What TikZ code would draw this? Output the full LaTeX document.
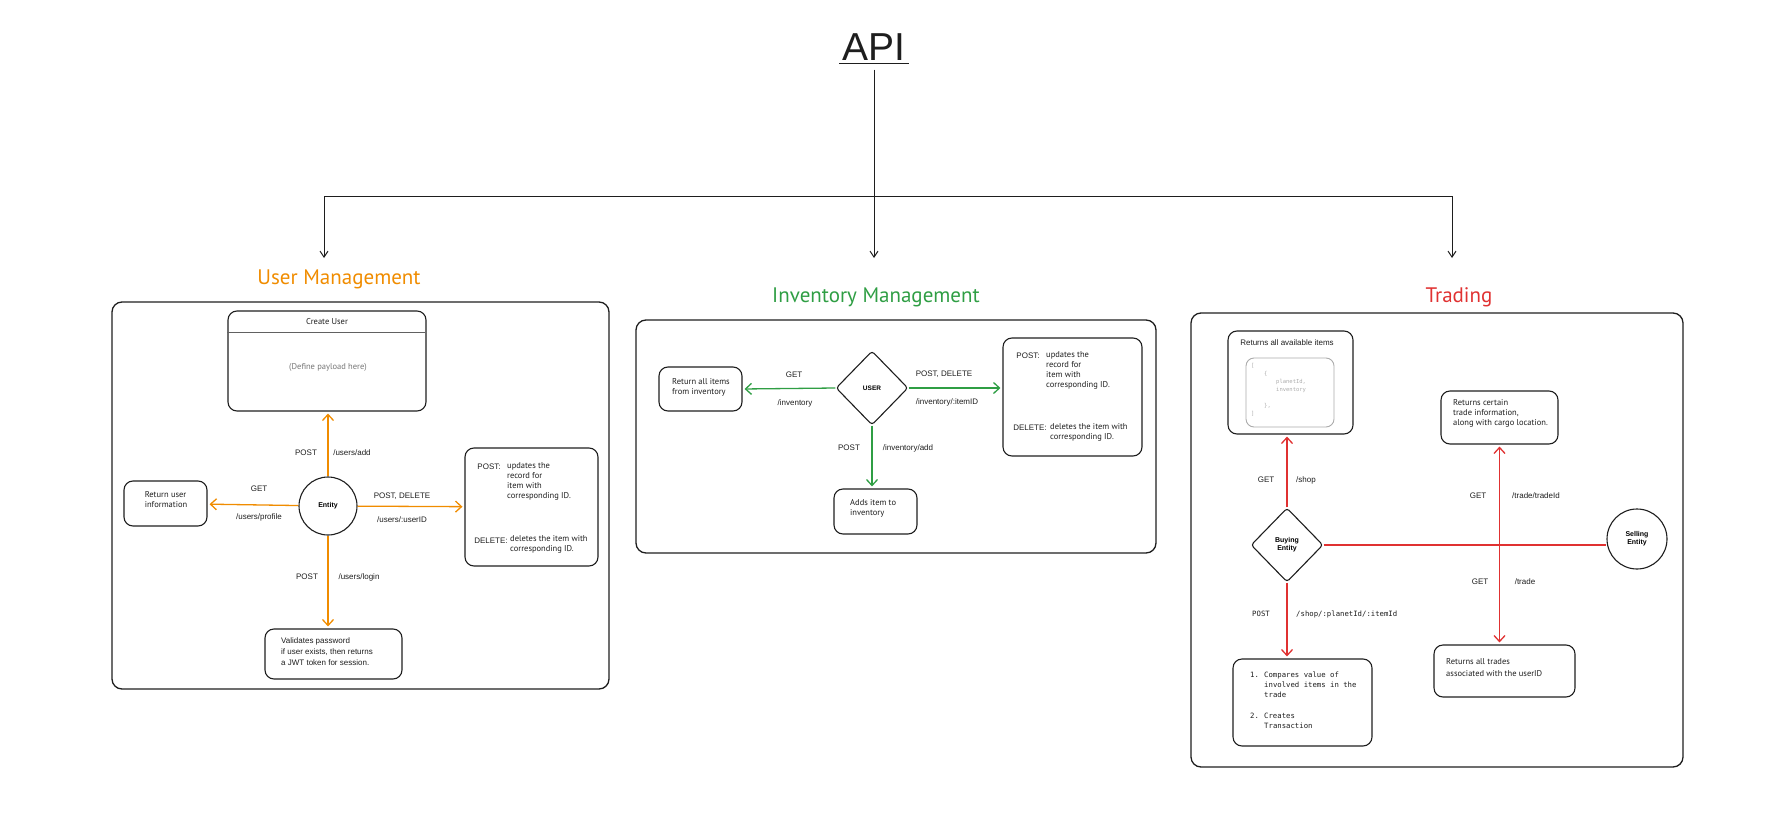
\documentclass[tikz,border=0pt]{standalone}
\usepackage{fontspec}
\setmainfont{Liberation Sans}
\setmonofont{DejaVu Sans Mono}
\newfontfamily\handfont{PT Sans}
\usetikzlibrary{arrows.meta,shapes.geometric}

\definecolor{ink}{HTML}{1E1E1E}
\definecolor{umorange}{HTML}{F08C00}
\definecolor{invgreen}{HTML}{2F9E44}
\definecolor{trred}{HTML}{E03131}
\definecolor{softgray}{HTML}{757575}
\definecolor{codegray}{HTML}{ABABAB}

\tikzset{
  frame/.style={draw=ink, line width=1.3pt, rounded corners=10pt},
  card/.style={draw=ink, line width=1.1pt, rounded corners=9pt, inner sep=0pt},
  entity/.style={draw=ink, line width=1.1pt, circle, inner sep=0pt, align=center,
    font=\bfseries\fontsize{7}{8}\selectfont},
  gate/.style={draw=ink, line width=1.1pt, diamond, rounded corners=3pt, inner sep=0pt,
    align=center, font=\bfseries\fontsize{7}{8}\selectfont},
  lbl/.style={inner sep=0pt, text=ink, font=\fontsize{8}{9}\selectfont},
  hand/.style={inner sep=0pt, align=left, text=ink, font=\handfont\fontsize{8.5}{10}\selectfont},
  mono/.style={inner sep=0pt, align=left, text=ink, font=\ttfamily\fontsize{7.3}{10}\selectfont},
  title/.style={inner sep=0pt, font=\handfont\fontsize{21}{24}\selectfont},
  route/.style={line width=1.3pt, shorten >=2pt, -{Straight Barb[length=6pt,width=11pt]}},
  tree/.style={draw=ink, line width=1pt},
}

\begin{document}
\begin{tikzpicture}[x=1pt, y=-1pt, line join=round]
    \useasboundingbox (0,0) rectangle (1765,816);

    % API 根节点
    \node[inner sep=3pt, text=ink, font=\fontsize{39}{40}\selectfont] (api) at (874,47) {API};
    \draw[tree, line width=1.3pt] (api.south west) -- (api.south east);

    \coordinate (hub) at (874,196);
    \coordinate (leftEnd) at (324,196);
    \coordinate (rightEnd) at (1452,196);
    \coordinate (umIn) at (324,258);
    \coordinate (invIn) at (874,258);
    \coordinate (trIn) at (1452,258);

    \draw[tree, shorten <=6pt] (api.south) -- (hub);
    \draw[tree] (leftEnd) -- (rightEnd);
    \draw[tree, -{Straight Barb[length=6pt,width=8pt]}] (leftEnd) -- (umIn);
    \draw[tree, -{Straight Barb[length=6pt,width=8pt]}] (hub) -- (invIn);
    \draw[tree, -{Straight Barb[length=6pt,width=8pt]}] (rightEnd) -- (trIn);

    % ---------------- User Management ----------------
    \node[title, text=umorange] (umTitle) at (339,279) {User Management};
    \draw[frame] (112,302) rectangle (609,689);

    \node[card, minimum width=198pt, minimum height=100pt] (createUser) at (327,361) {};
    \draw[ink!70, line width=1pt] (createUser.north west) ++(0,22) -- ++(198,0);
    \node[hand] (createTitle) at (327,322) {Create User};
    \node[hand, text=softgray] (payload) at (328,367) {(Define payload here)};

    \node[entity, minimum size=58pt] (entity) at (328,506) {Entity};
    \node[card, minimum width=83pt, minimum height=45pt] (returnUser) at (165.5,503.5) {};
    \node[hand] at (166,500) {Return user\\information};

    \node[card, minimum width=133pt, minimum height=118pt] (updateUser) at (531.5,507) {};
    \node[lbl] at (489,467) {POST:};
    \node[hand, anchor=north west] at (507,462) {updates the\\record for\\item with\\corresponding ID.};
    \node[lbl] at (491,541) {DELETE:};
    \node[hand, anchor=north west] at (510,535) {deletes the item with\\corresponding ID.};

    \node[card, minimum width=137pt, minimum height=50pt] (loginUser) at (333.5,654) {};
    \node[lbl, align=left, anchor=north west, font=\fontsize{8}{11}\selectfont] at (281,637)
        {Validates password\\if user exists, then returns\\a JWT token for session.};

    % 连线
    \draw[route, umorange] (entity.north) -- (entity.north |- createUser.south);
    \draw[route, umorange] (entity) -- (returnUser);
    \draw[route, umorange] (entity) -- (updateUser);
    \draw[route, umorange] (entity.south) -- (entity.south |- loginUser.north);

    \node[lbl] at (306,453) {POST};
    \node[lbl] at (352,453) {/users/add};
    \node[lbl] at (259,489) {GET};
    \node[lbl] at (259,517) {/users/profile};
    \node[lbl] at (402,496) {POST, DELETE};
    \node[lbl] at (402,520) {/users/:userID};
    \node[lbl] at (307,577) {POST};
    \node[lbl] at (359,577) {/users/login};

    % ---------------- Inventory Management ----------------
    \node[title, text=invgreen] (invTitle) at (876,297) {Inventory Management};
    \draw[frame] (636,320) rectangle (1156,553);

    \node[gate, minimum width=72pt, minimum height=74pt, font=\bfseries\fontsize{6.5}{8}\selectfont]
        (user) at (872,388) {USER};
    \node[card, minimum width=83pt, minimum height=44pt] (returnItems) at (700.5,389) {};
    \node[hand] at (701,387) {Return all items\\from inventory};

    \node[card, minimum width=139pt, minimum height=118pt] (updateItem) at (1072.5,397) {};
    \node[lbl] at (1028,356) {POST:};
    \node[hand, anchor=north west] at (1046,351) {updates the\\record for\\item with\\corresponding ID.};
    \node[lbl] at (1030,428) {DELETE:};
    \node[hand, anchor=north west] at (1050,423) {deletes the item with\\corresponding ID.};

    \node[card, minimum width=83pt, minimum height=45pt] (addItem) at (875.5,511.5) {};
    \node[hand, anchor=north west] at (850,499) {Adds item to\\inventory};

    % 连线
    \draw[route, invgreen] (user.west) -- (returnItems.east);
    \draw[route, invgreen] (user.east) -- (user.east -| updateItem.west);
    \draw[route, invgreen] (user.south) -- (user.south |- addItem.north);

    \node[lbl] at (794,375) {GET};
    \node[lbl] at (795,403) {/inventory};
    \node[lbl] at (944,374) {POST, DELETE};
    \node[lbl] at (947,402) {/inventory/:itemID};
    \node[lbl] at (849,448) {POST};
    \node[lbl] at (908,448) {/inventory/add};

    % ---------------- Trading ----------------
    \node[title, text=trred] (trTitle) at (1459,297) {Trading};
    \draw[frame] (1191,313) rectangle (1683,767);

    \node[card, minimum width=125pt, minimum height=103pt] (shopItems) at (1290.5,382.5) {};
    \node[lbl] at (1287,343) {Returns all available items};
    \node[draw=codegray, line width=0.9pt, rounded corners=8pt, minimum width=88pt,
        minimum height=69pt, inner sep=0pt] (shopCode) at (1290,392.5) {};
    \node[inner sep=0pt, align=left, anchor=north west, text=codegray,
        font=\ttfamily\fontsize{5.5}{8}\selectfont] at (1251,363)
        {[\\\hspace*{13pt}\{\\\hspace*{25pt}planetId,\\\hspace*{25pt}inventory\\[8pt]\hspace*{13pt}\},\\]};

    \node[gate, minimum width=72pt, minimum height=74pt] (buyer) at (1287,545) {Buying\\Entity};
    \node[entity, minimum size=60pt] (seller) at (1637,539) {Selling\\Entity};

    \node[card, minimum width=139pt, minimum height=87pt] (transaction) at (1302.5,702.5) {};
    \node[mono, anchor=north west] at (1250,672)
        {\makebox[14pt][l]{1.}Compares value of\\\hspace*{14pt}involved items in the\\\hspace*{14pt}trade\\[11pt]%
         \makebox[14pt][l]{2.}Creates\\\hspace*{14pt}Transaction};

    \node[card, minimum width=117pt, minimum height=53pt] (tradeInfo) at (1499.5,417.5) {};
    \node[hand, anchor=north west] at (1453,399) {Returns certain\\trade information,\\along with cargo location.};

    \node[card, minimum width=141pt, minimum height=52pt] (tradeList) at (1504.5,671) {};
    \node[hand, anchor=north west, font=\handfont\fontsize{8.5}{12}\selectfont] at (1446,658)
        {Returns all trades\\associated with the userID};

    % 连线
    \draw[route, trred] (buyer.north) -- (buyer.north |- shopItems.south);
    \draw[route, trred] (buyer.south) -- (buyer.south |- transaction.north);
    \draw[line width=1.3pt, trred] (buyer.east) -- (buyer.east -| seller.west);
    \draw[line width=1.3pt, trred, shorten <=2pt, shorten >=2pt,
        {Straight Barb[length=6pt,width=11pt]}-{Straight Barb[length=6pt,width=11pt]}]
        (tradeInfo.south) -- (tradeInfo.south |- tradeList.north);

    \node[lbl] at (1266,480) {GET};
    \node[lbl] at (1306,480) {/shop};
    \node[lbl] at (1478,496) {GET};
    \node[lbl] at (1536,496) {/trade/tradeId};
    \node[lbl] at (1480,582) {GET};
    \node[lbl] at (1525,582) {/trade};
    \node[mono] at (1261,614) {POST};
    \node[mono, anchor=west] at (1296,614) {/shop/:planetId/:itemId};
\end{tikzpicture}
\end{document}
